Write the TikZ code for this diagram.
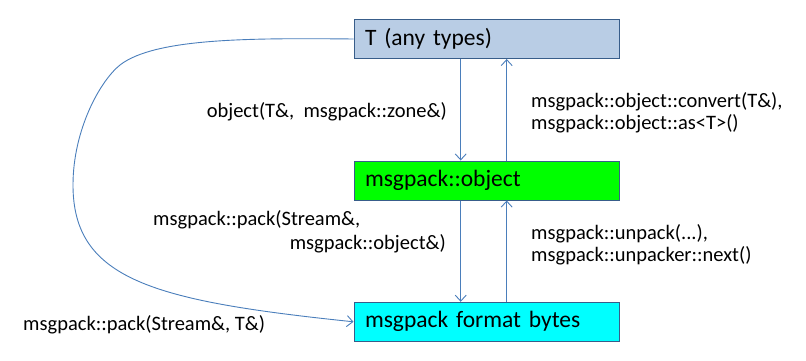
\documentclass[tikz,border=0pt]{standalone}
\usepackage{fontspec}
\setmainfont{Carlito}
\usetikzlibrary{arrows.meta}
\definecolor{linec}{HTML}{4A7EBB}
\definecolor{boxborder}{HTML}{385D8A}
\definecolor{tfill}{HTML}{B9CDE5}
\definecolor{ofill}{HTML}{00FF00}
\definecolor{bfill}{HTML}{00FFFF}
\begin{document}
\begin{tikzpicture}[x=1pt,y=-1pt,
  box/.style={draw=boxborder, line width=1pt, rectangle, text width=243pt, inner xsep=11pt, inner ysep=0pt,
    minimum height=39pt, align=left, font=\fontsize{23.5}{26}\selectfont},
  conn/.style={draw=linec, line width=0.9pt, -{Straight Barb[length=6pt,width=11pt]}},
  lbl/.style={inner sep=0pt, font=\fontsize{20.5}{24}\selectfont}]
\useasboundingbox (0,0) rectangle (806,361);
\node[box, fill=tfill] (t) at (486.5,39) {T (any types)};
\node[box, fill=ofill] (o) at (486.5,180.5) {msgpack::object};
\node[box, fill=bfill] (b) at (486.5,321.8) {msgpack format bytes};
\coordinate (dx) at (460.7,0);
\coordinate (ux) at (506.7,0);
\draw[conn] (t.south -| dx) -- (o.north -| dx);
\draw[conn] (o.north -| ux) -- (t.south -| ux);
\draw[conn] (o.south -| dx) -- (b.north -| dx);
\draw[conn] (b.north -| ux) -- (o.south -| ux);
\draw[conn] (t.west) .. controls (250,38) and (155,38) .. (120,65)
  .. controls (100,81) and (73,130) .. (73,185)
  .. controls (73,280) and (154,301) .. (b.west);
\node[lbl, anchor=east] (l1) at (447,112) {object(T\&,\ \ msgpack::zone\&)};
\node[lbl, anchor=west] (l2a) at (531,102) {msgpack::object::convert(T\&),};
\node[lbl, anchor=west] (l2b) at (531,124) {msgpack::object::as<T>()};
\node[lbl, anchor=west] (l3a) at (153,220) {msgpack::pack(Stream\&,};
\node[lbl, anchor=east] (l3b) at (446,244) {msgpack::object\&)};
\node[lbl, anchor=west] (l4a) at (531,234) {msgpack::unpack(...),};
\node[lbl, anchor=west] (l4b) at (531,256) {msgpack::unpacker::next()};
\node[lbl, anchor=west] (l5) at (23,325) {msgpack::pack(Stream\&, T\&)};
\end{tikzpicture}
\end{document}
